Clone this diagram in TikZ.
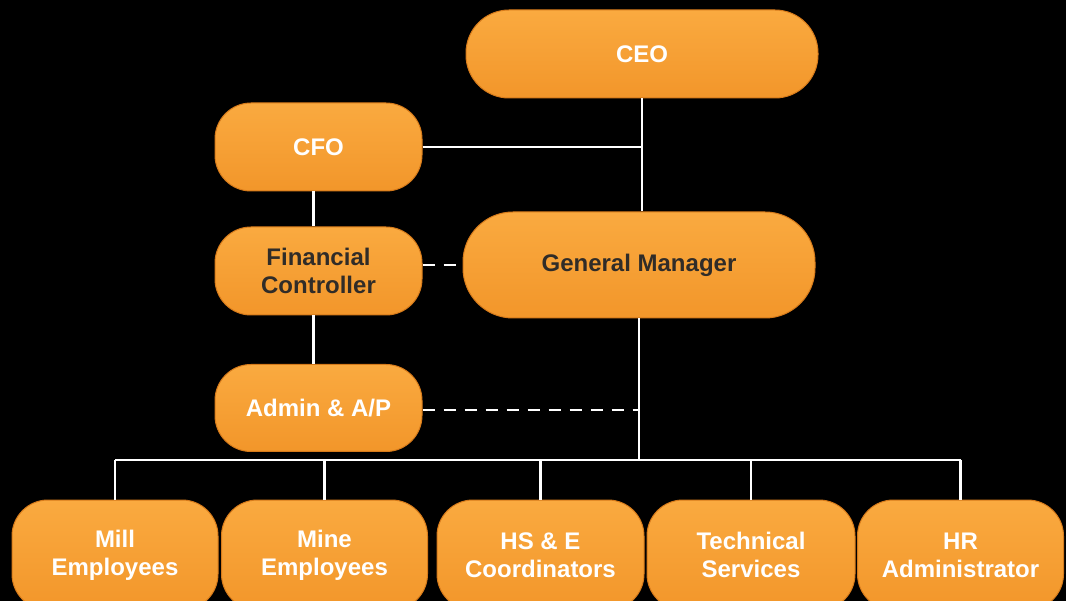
\documentclass[tikz,border=0pt]{standalone}
\usepackage{fontspec}
\setmainfont{Liberation Sans}
\definecolor{orgtop}{RGB}{250,170,64}
\definecolor{orgbot}{RGB}{242,150,42}
\definecolor{orgedge}{RGB}{214,122,26}
\definecolor{darktext}{RGB}{48,44,40}
\begin{document}
\begin{tikzpicture}[x=1pt,y=-1pt,
  box/.style={rectangle, rounded corners=#1, top color=orgtop, bottom color=orgbot,
    draw=orgedge, line width=1pt, text=white, align=center, inner sep=0pt,
    font=\bfseries\fontsize{24}{28}\selectfont},
  box/.default=36pt,
  darklabel/.style={text=darktext},
  wire/.style={draw=white, line width=2.5pt},
  dashwire/.style={wire, dash pattern=on 12pt off 9pt}]
  % canvas
  \fill[black] (0,0) rectangle (1066,601);
  \useasboundingbox (0,0) rectangle (1066,601);
  \clip (0,0) rectangle (1066,601);

  % management boxes
  \node[box=43pt, minimum width=352pt, minimum height=88pt] (ceo) at (642,54) {CEO};
  \node[box, minimum width=207pt, minimum height=88pt] (cfo) at (318.5,147) {CFO};
  \node[box, darklabel, minimum width=207pt, minimum height=88pt] (fc) at (318.5,271) {Financial\\Controller};
  \node[box=50pt, darklabel, minimum width=352pt, minimum height=106pt] (gm) at (639,265) {General Manager};
  \node[box, minimum width=207pt, minimum height=87pt] (admin) at (318.5,408) {Admin \& A/P};

  % staff boxes along the bottom
  \node[box, minimum width=206pt, minimum height=110pt] (mill) at (115,555) {Mill\\Employees};
  \node[box, minimum width=206pt, minimum height=110pt] (mine) at (324.5,555) {Mine\\Employees};
  \node[box, minimum width=207pt, minimum height=110pt] (hse) at (540.5,555) {HS \& E\\Coordinators};
  \node[box, minimum width=208pt, minimum height=110pt] (tech) at (751,555) {Technical\\Services};
  \node[box, minimum width=206pt, minimum height=110pt] (hr) at (960.5,555) {HR\\Administrator};

  % reporting lines
  \coordinate (bus) at (639,460);
  \draw[wire] (ceo.south) -- (ceo.south |- gm.north);
  \draw[wire] (cfo.east) -- (cfo.east -| ceo.south);
  \draw[wire] ([xshift=-5pt]cfo.south) -- ([xshift=-5pt]fc.north);
  \draw[wire] ([xshift=-5pt]fc.south) -- ([xshift=-5pt]admin.north);
  \draw[dashwire] (fc.east |- gm.west) -- (gm.west);
  \draw[wire] (gm.south) -- (bus);
  \draw[dashwire] ([yshift=-2pt]admin.east) -- ([yshift=-2pt]admin.east -| bus);
  \draw[wire] (mill.north |- bus) -- (hr.north |- bus);
  \foreach \n in {mill,mine,hse,tech,hr}
    \draw[wire] (\n.north |- bus) -- (\n.north);
\end{tikzpicture}
\end{document}
